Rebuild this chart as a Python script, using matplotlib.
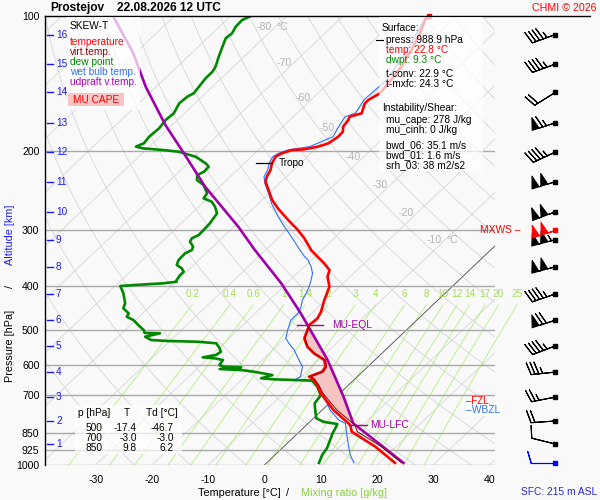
import numpy as np
import matplotlib
matplotlib.use('Agg')
import matplotlib.pyplot as plt
import matplotlib.transforms as mtransforms
from matplotlib.lines import Line2D
from matplotlib.patches import Rectangle
from matplotlib.ticker import NullLocator, NullFormatter

plt.rcParams['font.family'] = ['Liberation Sans', 'DejaVu Sans']

# ---- sounding (hPa / degC) ----
temp_p = [988.9, 910.4, 843, 814.6, 754.3, 722.8, 692.2, 663.4, 641.1, 635.9,
          619.8, 604.2, 583.7, 563.9, 545.2, 522.2, 500.5, 487.9, 471.4, 455.7,
          429.1, 400.7, 380.7, 367.9, 355.5, 343.7, 332.1, 312.7, 299.7, 284.7,
          268.2, 256.9, 244.1, 233.9, 228.0, 220.3, 212.8, 205.8, 202.2, 198.8,
          198.3, 195.4, 192.1, 185.7, 181.0, 176.4, 170.5, 167.6, 164.7, 156.5,
          153.8, 148.6, 138.8, 129.7, 119.1, 109.3, 102.1, 100]
temp_t = [22.8, 16.3, 9.3, 7.8, 2.0, -0.7, -3.4, -5.6, -7.7, -8.6,
          -7.2, -7.5, -9.0, -12.1, -14.5, -16.6, -17.6, -18.2, -18.0, -18.6,
          -20.2, -21.8, -24.0, -24.9, -27.1, -29.5, -31.9, -35.3, -38.0, -41.6,
          -45.6, -48.2, -50.7, -52.8, -53.5, -54.1, -55.1, -55.7, -55.2, -54.0,
          -52.2, -50.0, -48.8, -48.3, -48.4, -49.3, -49.6, -50.0, -48.5, -49.8,
          -49.8, -49.0, -49.5, -50.2, -51.5, -53.1, -54.7, -54.7]

tv_p = [988.9, 934, 910.4, 843, 814.6, 754.3, 722.8, 692.2, 663.4, 641.1,
        635.9, 619.8, 604.2, 583.7, 563.9, 545.2, 522.2, 500.5, 487.9]
tv_t = [24.0, 19.4, 17.4, 10.3, 8.6, 2.6, -0.2, -3.0, -5.3, -7.4,
        -8.3, -6.9, -7.3, -8.8, -12.0, -14.4, -16.5, -17.5, -18.1]

dew_p = [988.9, 950.0, 918.0, 871.7, 850.0, 821.7, 810.5, 801.2, 787.1, 760.9,
         728.9, 700.0, 669.4, 648.8, 644.5, 641.1, 630.5, 619.8, 614.5, 611.3,
         606.0, 604.2, 598.9, 583.7, 578.7, 575.7, 568.9, 559.4, 549.6, 535.8,
         531.4, 529.5, 526.8, 518.0, 508.9, 508.0, 500.5, 487.9, 475.5, 467.5,
         459.4, 447.7, 436.4, 414.5, 399.3, 397.3, 393.8, 390.7, 387.3, 377.5,
         371.1, 364.7, 358.5, 349.5, 337.7, 332.1, 326.5, 318.2, 312.7, 307.4,
         297.1, 289.6, 282.2, 275.1, 265.9, 259.2, 254.7, 248.3, 237.9, 231.9,
         226.0, 222.3, 216.6, 212.8, 205.8, 200.6, 198.8, 197.1, 195.4, 192.1,
         185.7, 177.9, 170.5, 164.7, 156.5, 151.2, 148.6, 143.7, 137.6, 133.1,
         129.7, 123.2, 117.1, 112.1, 109.3, 105.6, 102.1, 100.0]
dew_t = [9.3, 8.4, 8.0, 6.8, 6.2, 5.6, 5.3, 2.4, 0.5, -0.9,
         -2.6, -3.0, -5.2, -7.3, -14.3, -16.8, -15.4, -19.3, -21.9, -25.9,
         -22.4, -25.5, -26.7, -27.0, -28.8, -31.1, -29.2, -28.9, -29.8, -31.3,
         -34.9, -40.3, -43.5, -45.2, -43.2, -46.0, -46.7, -48.6, -50.4, -52.2,
         -52.5, -54.4, -55.0, -57.2, -59.1, -56.7, -51.9, -49.9, -50.2, -50.5,
         -50.5, -51.5, -53.0, -53.6, -53.7, -53.1, -53.5, -55.0, -55.3, -54.7,
         -54.8, -54.9, -55.2, -55.5, -57.1, -58.6, -60.7, -61.0, -63.2, -65.3,
         -66.2, -65.6, -65.7, -66.9, -69.9, -73.8, -77.0, -80.9, -82.4, -81.6,
         -81.9, -81.7, -82.1, -81.9, -82.8, -82.6, -82.1, -82.4, -82.8, -82.8,
         -83.2, -84.5, -85.7, -86.7, -86.5, -87.1, -87.2, -86.4]

wb_p = [988.9, 950.0, 902.7, 850.1, 807.5, 794.1, 754.3, 716.6, 698.6, 675.0,
        657.7, 646.8, 644.7, 635.9, 604.2, 583.7, 554.5, 535.8, 522.2, 500.5,
        475.5, 459.4, 444.2, 429.1, 414.5, 400.7, 387.3, 374.2, 361.6, 349.5,
        343.7, 326.5, 310.2, 294.7, 279.9, 261.3, 248.3, 235.9, 228.0, 220.3,
        212.8, 205.8, 202.2, 198.8, 195.4, 185.7, 176.4, 167.6, 164.7, 153.8,
        138.8, 119.1, 100.0]
wb_t = [15.5, 13.4, 11.2, 8.7, 6.6, 4.8, 1.4, -1.3, -2.8, -4.4,
        -5.9, -7.4, -10.5, -10.1, -11.6, -13.5, -16.2, -18.4, -19.9, -21.1,
        -22.4, -22.4, -23.1, -24.1, -24.7, -25.4, -26.3, -27.3, -28.8, -30.6,
        -31.8, -34.9, -37.9, -41.0, -44.0, -47.7, -50.1, -52.6, -54.0, -54.6,
        -55.6, -56.2, -55.8, -54.8, -51.5, -49.2, -50.1, -50.8, -49.6, -50.6,
        -50.3, -52.2, -55.2]

parcel_p = [988.9, 807.5, 704.6, 583.7, 459.4, 393.8, 332.1, 294.7, 240.0, 200.9,
            174.9, 143.9, 120.9, 100]
parcel_t = [24.3, 8.0, 1.3, -8.4, -21.9, -31.0, -41.9, -49.2, -62.6, -73.0,
            -81.2, -91.8, -100.4, -110.9]

lfc_p, eql_p = 816, 487
tropo_p, tropo_t = 212.8, -55.1
fzl_p, wbzl_p = 722, 756

# wind profile: surface + every km
km_levels = list(range(1, 17))
km_press = [898, 798, 706, 621, 543, 476, 416, 362, 315, 273, 234, 201, 173, 148, 128, 110]
sfc_wind_dir, sfc_wind_spd = 270, 10
wind_dir = [284, 266, 259, 264, 249, 252, 251, 255, 255, 249, 253, 245, 252, 238, 250, 250]
wind_spd = [10, 20, 25, 35, 45, 70, 45, 100, 105, 100, 100, 45, 65, 20, 45, 45]
mxws_p, mxws_dir, mxws_spd = 300, 252, 100

# surface / index values
sfc_press, sfc_temp, sfc_dwpt = 988.9, 22.8, 9.3
t_conv, t_mxfc = 22.9, 24.3
mu_cape, mu_cinh = 278, 0
bwd_06, bwd_01, srh_03 = 35.1, 1.6, 38
table_p = [500, 700, 850]
table_t = [-17.4, -3.0, 9.8]
table_td = [-46.7, -3.0, 6.2]

p_levels = [100, 200, 300, 400, 500, 600, 700, 850, 925, 1000]
t_ticks = [-30, -20, -10, 0, 10, 20, 30, 40]
iso_label_t = [-80, -70, -60, -50, -40, -30, -20, -10]
iso_label_p = [106, 127, 152, 178, 206, 238, 275, 316]
mr_values = [0.2, 0.4, 0.6, 1, 1.4, 2, 3, 4, 6, 8, 10, 12, 14, 17, 20, 25]
mr_labels = ['0.2', '0.4', '0.6', '1', '1.4', '2', '3', '4', '6', '8', '10', '12', '14', '17', '20', '25']

SKEW = 84.0


def skew(t, p):
    return np.asarray(t, dtype=float) + SKEW * np.log10(1000.0 / np.asarray(p, dtype=float))


def fx(px):
    return px / 600.0


def fy(py):
    return 1 - py / 500.0


BG = '#f9f9f9'
fig = plt.figure(figsize=(6, 5), dpi=100, facecolor=BG)
ax = fig.add_axes([fx(45), fy(465), 450 / 600, 449 / 500])
ax.set_facecolor(BG)
ax.set_yscale('log')
ax.set_ylim(1000, 100)
ax.set_xlim(-39, 41)
for s in ['top', 'right', 'bottom']:
    ax.spines[s].set_visible(False)
ax.spines['left'].set_linewidth(1.0)
ax.yaxis.set_minor_locator(NullLocator())
ax.yaxis.set_minor_formatter(NullFormatter())
ax.set_yticks(p_levels)
ax.set_yticklabels([str(p) for p in p_levels], fontsize=7.6)
ax.set_xticks(t_ticks)
ax.set_xticklabels([str(t) for t in t_ticks], fontsize=7.6)
ax.tick_params(axis='both', length=0)
ax.tick_params(axis='x', pad=7)
ax.tick_params(axis='y', pad=4)

# background grid
pg = np.geomspace(100, 1000, 80)
for t0 in range(-140, 50, 10):
    ax.plot(skew(t0, pg), pg, color='#d6d6d6', lw=0.6, zorder=1)
ax.plot(skew(0, pg), pg, color='#555555', lw=0.6, zorder=1.5)
for th in range(250, 500, 10):
    tt = th * (pg / 1000.0) ** 0.2857 - 273.15
    ax.plot(skew(tt, pg), pg, color='#d6d6d6', lw=0.6, zorder=1)
pm = np.geomspace(440, 1000, 40)
for w, lab in zip(mr_values, mr_labels):
    e = w * pm / (622.0 + w)
    le = np.log(e / 6.112)
    td = 243.5 * le / (17.67 - le)
    ax.plot(skew(td, pm), pm, color='#b4f07c', lw=0.6, zorder=1.2, clip_on=False)
    ax.text(skew(td[0], pm[0]), 416, lab, color='#a6dc5a', fontsize=7.2,
            ha='center', va='center', zorder=2, clip_on=False)
for p in p_levels[1:]:
    ax.axhline(p, color='#a8a8a8', lw=1.0, zorder=1.6)
for t0, p0 in zip(iso_label_t, iso_label_p):
    xl = skew(t0, p0)
    lab = '%d' % t0
    ax.annotate(lab, (xl, p0), xytext=(-2, 0), textcoords='offset points',
                color='#b4b4b4', fontsize=7.6, ha='right', va='center', zorder=2)
    if t0 in (-80, -10):
        ax.annotate('°C', (xl, p0), xytext=(1, 0), textcoords='offset points',
                    color='#b4b4b4', fontsize=7.6, ha='left', va='center', zorder=2)
fig.add_artist(Line2D([fx(45), fx(590)], [fy(16), fy(16)], color='black', lw=1.0))

# CAPE shading between virtual temperature and parcel
pp = np.geomspace(eql_p, lfc_p, 200)
par_i = np.interp(np.log(pp), np.log(parcel_p[::-1]), parcel_t[::-1])
tv_i = np.interp(np.log(pp), np.log(tv_p[::-1]), tv_t[::-1])
ax.fill_betweenx(pp, skew(tv_i, pp), skew(par_i, pp), where=par_i > tv_i,
                 color='#f7c4c4', lw=0, zorder=3)

# profiles
ax.plot(skew(wb_t, wb_p), wb_p, color='#2f6fff', lw=0.8, zorder=4)
ax.plot(skew(dew_t, dew_p), dew_p, color='#008800', lw=1.9, zorder=5)
ax.plot(skew(parcel_t, parcel_p), parcel_p, color='#a000a8', lw=1.9, zorder=5)
ax.plot(skew(temp_t, temp_p), temp_p, color='#ff0000', lw=1.9, zorder=6)
ax.plot(skew(tv_t, tv_p), tv_p, color='#8b0000', lw=0.7, zorder=7)
ax.plot(skew(temp_t[-1], temp_p[-1]), temp_p[-1], 's', color='#ff0000', ms=3,
        clip_on=False, zorder=7)

# level markers
xt = skew(tropo_t, tropo_p)
ax.plot([xt - 2.8, xt], [tropo_p, tropo_p], color='black', lw=0.9, zorder=8)
ax.text(xt + 1.2, tropo_p, 'Tropo', fontsize=7.2, va='center', zorder=8)
xe = float(np.interp(np.log(eql_p), np.log(parcel_p[::-1]), parcel_t[::-1]))
xe = skew(xe, eql_p)
ax.plot([xe - 1.8, xe + 2.7], [eql_p, eql_p], color='#a000a8', lw=1.0, zorder=8)
ax.text(xe + 4.4, eql_p, 'MU-EQL', color='#a000a8', fontsize=7.4, va='center', zorder=8)
xl_ = float(np.interp(np.log(lfc_p), np.log(parcel_p[::-1]), parcel_t[::-1]))
xl_ = skew(xl_, lfc_p)
ax.plot([xl_ - 1.2, xl_ + 2.0], [lfc_p, lfc_p], color='#a000a8', lw=1.0, zorder=8)
ax.text(xl_ + 2.6, lfc_p, 'MU-LFC', color='#a000a8', fontsize=7.4, va='center', zorder=8)

# wind barbs column on the right
xb = 51.7
bdir = np.radians(wind_dir)
bspd = np.array(wind_spd, dtype=float)
bk = dict(length=5.9, lw=0.8, clip_on=False, zorder=9,
          sizes=dict(spacing=0.16, height=0.5, width=0.3))
ax.barbs(np.full(len(km_press), xb), km_press, -bspd * np.sin(bdir), -bspd * np.cos(bdir),
         color='black', **bk)
ax.plot(np.full(len(km_press), xb), km_press, 's', color='black', ms=2.3, clip_on=False, zorder=9)
r = np.radians(mxws_dir)
ax.barbs([xb], [mxws_p], [-mxws_spd * np.sin(r)], [-mxws_spd * np.cos(r)], color='red', **bk)
ax.plot([xb], [mxws_p], 's', color='red', ms=2.3, clip_on=False, zorder=9)
r = np.radians(sfc_wind_dir)
ax.barbs([xb], [sfc_press], [-sfc_wind_spd * np.sin(r)], [-sfc_wind_spd * np.cos(r)],
         color='#0000ff', **bk)
ax.plot([xb], [sfc_press], 's', color='#0000ff', ms=2.3, clip_on=False, zorder=9)
ax.text(skew(0, 1000) + 45.6, mxws_p, 'MXWS \u2013', color='red', fontsize=7.4,
        ha='right', va='center', clip_on=False, zorder=9)

# freezing / wet-bulb zero labels
ax.text(35.9, fzl_p, '\u2013FZL', color='red', fontsize=7.0, va='center', zorder=9)
ax.text(35.9, wbzl_p, '\u2013WBZL', color='#2f6fff', fontsize=7.4, va='center', zorder=10,
        bbox=dict(facecolor='white', edgecolor='none', pad=0.6))

# altitude scale on the left
bt = mtransforms.blended_transform_factory(fig.transFigure, ax.transData)
for km, p in zip(km_levels, km_press):
    ax.plot([fx(47), fx(53)], [p, p], color='#1a1aff', lw=1.0, transform=bt, clip_on=False, zorder=9)
    ax.text(fx(56), p, str(km), color='#1a1aff', fontsize=7.2, va='center',
            transform=bt, clip_on=False, zorder=9)

# axis labels
fig.text(fx(10), fy(346), 'Pressure [hPa]', rotation=90, fontsize=7.8, ha='center', va='center')
fig.text(fx(10), fy(287), '/', rotation=90, fontsize=7.8, ha='center', va='center')
fig.text(fx(10), fy(235), 'Altitude [km]', rotation=90, fontsize=7.8, ha='center', va='center',
         color='#1a1aff')
fig.text(fx(239), fy(493), 'Temperature [°C]', fontsize=7.8, ha='center', va='center')
fig.text(fx(288), fy(493), '/', fontsize=7.8, ha='center', va='center')
fig.text(fx(344), fy(493), 'Mixing ratio [g/kg]', fontsize=7.8, ha='center', va='center',
         color='#88d040')

# title and credits
fig.text(fx(50), fy(8), 'Prostejov', fontsize=8.6, fontweight='bold', va='center')
fig.text(fx(117), fy(8), '22.08.2026 12 UTC', fontsize=8.6, fontweight='bold', va='center')
fig.text(fx(597), fy(8), 'CHMI © 2026', fontsize=7.7, color='red', ha='right', va='center')
fig.text(fx(597), fy(492), 'SFC: 215 m ASL', fontsize=7.4, color='#2a2ae0', ha='right', va='center')

# legend box
fig.add_artist(Rectangle((fx(67), fy(110)), fx(140) - fx(67), fy(17) - fy(110),
                         transform=fig.transFigure, facecolor='white', edgecolor='none',
                         alpha=0.72, zorder=20))
leg = [('SKEW-T', 'black', 26), ('temperature', '#ff0000', 42), ('virt.temp.', '#a00000', 52),
       ('dew point', '#008800', 62), ('wet bulb temp.', '#2f6fff', 72),
       ('udpraft v.temp.', '#b000b8', 82)]
for txt, col, y in leg:
    fig.text(fx(70), fy(y), txt, color=col, fontsize=7.3, va='center', zorder=21)
fig.add_artist(Rectangle((fx(68), fy(106)), fx(124) - fx(68), fy(93) - fy(106),
                         transform=fig.transFigure, facecolor='#f8c4c4', edgecolor='none', zorder=21))
fig.text(fx(96), fy(100), 'MU CAPE', color='red', fontsize=7.3, ha='center', va='center', zorder=22)

# surface / instability box
fig.add_artist(Rectangle((fx(379), fy(171)), fx(483) - fx(379), fy(17) - fy(171),
                         transform=fig.transFigure, facecolor='white', edgecolor='none',
                         alpha=0.7, zorder=20))
fig.add_artist(Line2D([fx(376), fx(383)], [fy(40), fy(40)], color='black', lw=0.8, zorder=21))
info = [('Surface:', 'black', 382, 28),
        ('press: %.1f hPa' % sfc_press, 'black', 386, 40),
        ('temp: %.1f °C' % sfc_temp, '#ff0000', 386, 50),
        ('dwpt: %.1f °C' % sfc_dwpt, '#008800', 386, 60),
        ('t-conv: %.1f °C' % t_conv, 'black', 386, 74),
        ('t-mxfc: %.1f °C' % t_mxfc, 'black', 386, 84),
        ('Instability/Shear:', 'black', 382, 108),
        ('mu_cape: %d J/kg' % mu_cape, 'black', 386, 120),
        ('mu_cinh: %d J/kg' % mu_cinh, 'black', 386, 130),
        ('bwd_06: %.1f m/s' % bwd_06, 'black', 386, 145),
        ('bwd_01: %.1f m/s' % bwd_01, 'black', 386, 155),
        ('srh_03: %d m2/s2' % srh_03, 'black', 386, 165)]
for txt, col, x, y in info:
    fig.text(fx(x), fy(y), txt, color=col, fontsize=7.3, va='center', zorder=21)

# level table
fig.add_artist(Rectangle((fx(75), fy(454)), fx(182) - fx(75), fy(405) - fy(454),
                         transform=fig.transFigure, facecolor='white', edgecolor='none',
                         alpha=0.7, zorder=20))
fig.text(fx(78), fy(413), 'p [hPa]', fontsize=7.3, va='center', zorder=21)
fig.text(fx(127), fy(413), 'T', fontsize=7.3, ha='center', va='center', zorder=21)
fig.text(fx(146), fy(413), 'Td [°C]', fontsize=7.3, va='center', zorder=21)
for i, (p, t, td) in enumerate(zip(table_p, table_t, table_td)):
    y = 428 + 10 * i
    fig.text(fx(102), fy(y), '%d' % p, fontsize=7.3, ha='right', va='center', zorder=21)
    fig.text(fx(137), fy(y), '%.1f' % t, fontsize=7.3, ha='right', va='center', zorder=21)
    fig.text(fx(174), fy(y), '%.1f' % td, fontsize=7.3, ha='right', va='center', zorder=21)

fig.savefig('out.png', dpi=100, facecolor=BG)
